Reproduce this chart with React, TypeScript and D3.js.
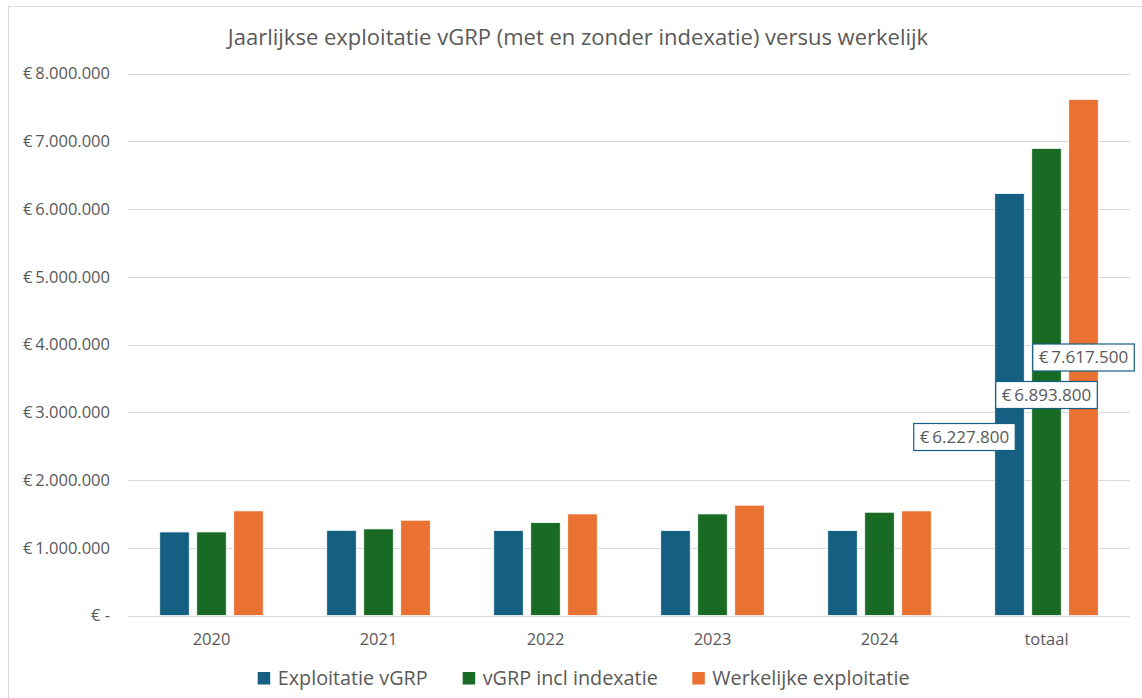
import React, { useEffect, useRef } from 'react';
import * as d3 from 'd3';

// data
const categories = ['2020', '2021', '2022', '2023', '2024', 'totaal'];
const seriesNames = ['Exploitatie vGRP', 'vGRP incl indexatie', 'Werkelijke exploitatie'];
const exploitatie = [1233000, 1257000, 1253000, 1253000, 1253000, 6227800];
const inclIndexatie = [1233000, 1278000, 1371000, 1499000, 1524000, 6893800];
const werkelijk = [1544000, 1406000, 1499000, 1628000, 1544000, 7617500];
const yTicks = [0, 1000000, 2000000, 3000000, 4000000, 5000000, 6000000, 7000000, 8000000];

const colors = ['#156082', '#196B24', '#E97132'];
const FONT = '"Open Sans", "Noto Sans", sans-serif';
const TEXT = '#595959';

// offsets of the moved data labels on the totaal bars (relative to bar centre / axis)
const labelOffsets = [
  { dx: -45, y: 437 },
  { dx: 0, y: 395 },
  { dx: 0, y: 357.5 },
];

const W = 1142;
const H = 698;

const euro = (v: number) => {
  if (v === 0) return '€ -';
  return '€\u2009' + d3.format(',.0f')(v).replace(/,/g, '.');
};

const App = () => {
  const ref = useRef<SVGSVGElement>(null);

  useEffect(() => {
    const svg = d3.select(ref.current);
    svg.selectAll('*').remove();

    const left = 128, right = 1130, top = 73.5, bottom = 615.5;
    const series = [exploitatie, inclIndexatie, werkelijk];

    // chart frame
    svg.append('rect')
      .attr('x', 8.5).attr('y', 6.5).attr('width', W + 20).attr('height', H + 20)
      .attr('fill', '#fff').attr('stroke', '#D9D9D9').attr('stroke-width', 1);

    const x = d3.scaleBand().domain(categories).range([left, right]);
    const y = d3.scaleLinear().domain([0, 8000000]).range([bottom, top]);
    const barW = 29.5;
    const step = 37;

    // gridlines
    svg.append('g').selectAll('line')
      .data(yTicks)
      .enter()
      .append('line')
      .attr('x1', left).attr('x2', right)
      .attr('y1', d => Math.round(y(d)) + 0.5).attr('y2', d => Math.round(y(d)) + 0.5)
      .attr('stroke', '#D9D9D9').attr('stroke-width', 1.2);

    // y labels
    svg.append('g').selectAll('text')
      .data(yTicks)
      .enter()
      .append('text')
      .attr('x', 110)
      .attr('y', d => y(d))
      .attr('dy', '0.35em')
      .attr('text-anchor', 'end')
      .style('font-family', FONT).style('font-size', '16.5px').style('fill', TEXT)
      .text(d => euro(d));

    // bars
    series.forEach((vals, s) => {
      svg.append('g').selectAll('rect')
        .data(categories)
        .enter()
        .append('rect')
        .attr('x', d => (x(d) as number) + x.bandwidth() / 2 + (s - 1) * step - barW / 2)
        .attr('y', (d, i) => y(vals[i]))
        .attr('width', barW)
        .attr('height', (d, i) => bottom - y(vals[i]))
        .attr('fill', colors[s])
        .attr('stroke', '#fff').attr('stroke-width', 0.75);
    });

    // x labels
    svg.append('g').selectAll('text')
      .data(categories)
      .enter()
      .append('text')
      .attr('x', d => (x(d) as number) + x.bandwidth() / 2)
      .attr('y', 639)
      .attr('dy', '0.35em')
      .attr('text-anchor', 'middle')
      .style('font-family', FONT).style('font-size', '16.5px').style('fill', TEXT)
      .text(d => d);

    // data labels on totaal
    const last = categories.length - 1;
    series.forEach((vals, s) => {
      const cx = (x(categories[last]) as number) + x.bandwidth() / 2 + (s - 1) * step + labelOffsets[s].dx;
      const cy = labelOffsets[s].y;
      const g = svg.append('g');
      const t = g.append('text')
        .attr('x', cx).attr('y', cy).attr('dy', '0.35em')
        .attr('text-anchor', 'middle')
        .style('font-family', FONT).style('font-size', '17px').style('fill', TEXT)
        .text(euro(vals[last]));
      const bb = (t.node() as SVGTextElement).getBBox();
      g.insert('rect', 'text')
        .attr('x', cx - bb.width / 2 - 6).attr('y', cy - 13.5)
        .attr('width', bb.width + 12).attr('height', 27)
        .attr('fill', '#fff').attr('stroke', colors[0]).attr('stroke-width', 1.2);
    });

    // title
    svg.append('text')
      .attr('x', 578).attr('y', 37).attr('dy', '0.35em')
      .attr('text-anchor', 'middle')
      .style('font-family', FONT).style('font-size', '22px').style('fill', TEXT)
      .text('Jaarlijkse exploitatie vGRP (met en zonder indexatie) versus werkelijk');

    // legend
    const legendX = [257.7, 462.7, 692.3];
    seriesNames.forEach((name, s) => {
      svg.append('rect')
        .attr('x', legendX[s]).attr('y', 672).attr('width', 12.5).attr('height', 12.5)
        .attr('fill', colors[s]);
      svg.append('text')
        .attr('x', legendX[s] + 20).attr('y', 678.5).attr('dy', '0.35em')
        .style('font-family', FONT).style('font-size', '19.8px').style('fill', TEXT)
        .text(name);
    });
  }, []);

  return (
    <svg ref={ref} width={W} height={H}
      style={{ position: 'absolute', left: 0, top: 0, background: '#fff' }} />
  );
};

export default App;
